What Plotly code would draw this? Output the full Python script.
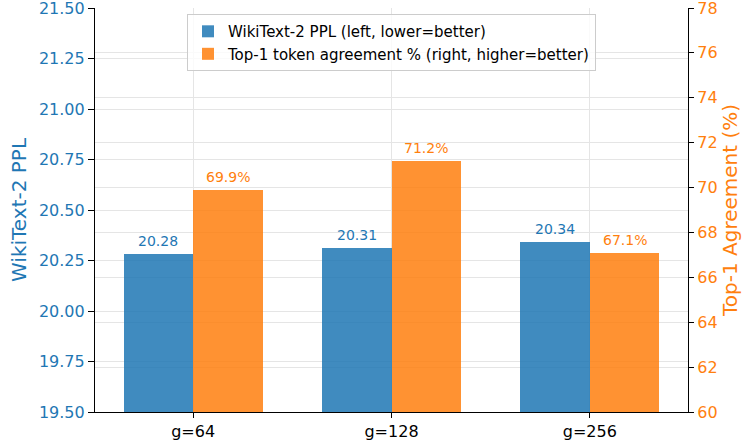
import plotly.graph_objects as go

categories = ["g=64", "g=128", "g=256"]
ppl_values = [20.28, 20.31, 20.34]
agree_values = [69.9, 71.2, 67.1]
ppl_labels = ["20.28", "20.31", "20.34"]
agree_labels = ["69.9%", "71.2%", "67.1%"]
left_ticks = [19.5, 19.75, 20.0, 20.25, 20.5, 20.75, 21.0, 21.25, 21.5]
right_ticks = [60, 62, 64, 66, 68, 70, 72, 74, 76, 78]

xpos = list(range(len(categories)))
W = 0.35
BLUE = "#1f77b4"
ORANGE = "#ff7f0e"
FONT = "DejaVu Sans"
GRID = "#e5e5e5"

fig = go.Figure()
fig.add_trace(go.Bar(
    x=xpos, y=[v - 19.5 for v in ppl_values], base=19.5,
    width=W, offset=-W,
    marker=dict(color="rgba(31,119,180,0.85)", line=dict(width=0)),
    name="WikiText-2 PPL (left, lower=better)",
    yaxis="y",
))
fig.add_trace(go.Bar(
    x=xpos, y=[v - 60 for v in agree_values], base=60,
    width=W, offset=0,
    marker=dict(color="rgba(255,127,14,0.85)", line=dict(width=0)),
    name="Top-1 token agreement % (right, higher=better)",
    yaxis="y2",
))

for x, v, lab in zip(xpos, ppl_values, ppl_labels):
    fig.add_annotation(x=x - W / 2, y=v, xref="x", yref="y", text=lab,
                       showarrow=False, yanchor="bottom", yshift=3,
                       font=dict(color=BLUE, size=14, family=FONT))
for x, v, lab in zip(xpos, agree_values, agree_labels):
    fig.add_annotation(x=x + W / 2, y=v, xref="x", yref="y2", text=lab,
                       showarrow=False, yanchor="bottom", yshift=3,
                       font=dict(color=ORANGE, size=14, family=FONT))

fig.update_layout(
    width=744, height=448,
    margin=dict(l=95, r=56, t=8, b=36, autoexpand=False),
    paper_bgcolor="white", plot_bgcolor="white",
    font=dict(family=FONT, size=16, color="black"),
    showlegend=True,
    legend=dict(
        x=0.5, xanchor="center", y=0.985, yanchor="top",
        bgcolor="rgba(255,255,255,0.8)", bordercolor="#cccccc", borderwidth=1,
        font=dict(size=15, family=FONT), traceorder="normal",
    ),
    bargap=0,
    xaxis=dict(
        range=[-0.495, 2.495], tickvals=xpos, ticktext=categories,
        showgrid=True, gridcolor=GRID, gridwidth=1,
        showline=True, linecolor="black", linewidth=1.2,
        ticks="outside", ticklen=5, tickcolor="black",
        tickfont=dict(size=16, color="black"), zeroline=False, automargin=False,
    ),
    yaxis=dict(
        range=[19.5, 21.50001], tickvals=left_ticks,
        ticktext=[f"{t:.2f}" for t in left_ticks],
        showgrid=True, gridcolor=GRID, gridwidth=1,
        showline=True, linecolor="black", linewidth=1.2,
        ticks="outside", ticklen=6, tickcolor="black",
        tickfont=dict(size=16, color=BLUE), zeroline=False, automargin=False,
        ticklabeloverflow="allow",
        title=dict(text="WikiText-2 PPL", font=dict(size=20, color=BLUE), standoff=6),
    ),
    yaxis2=dict(
        range=[60, 78.0001], tickvals=right_ticks,
        overlaying="y", side="right",
        showgrid=True, gridcolor=GRID, gridwidth=1,
        showline=True, linecolor="black", linewidth=1.2,
        ticks="outside", ticklen=5, tickcolor="black",
        tickfont=dict(size=16, color=ORANGE), zeroline=False, automargin=False,
        ticklabeloverflow="allow",
        title=dict(text="Top-1 Agreement (%)", font=dict(size=20, color=ORANGE), standoff=4),
    ),
)

fig.write_html("out.html", config={"displayModeBar": False},
               post_script="document.body.style.margin='0';")
